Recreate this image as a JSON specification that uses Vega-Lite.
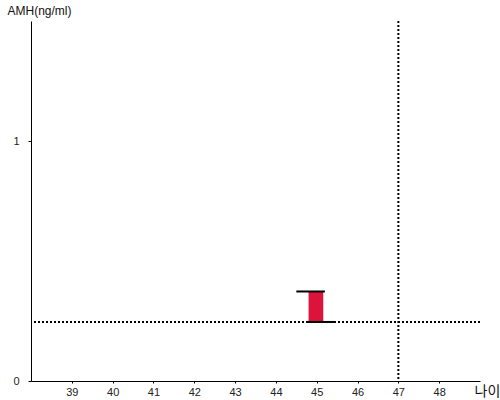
{
  "$schema": "https://vega.github.io/schema/vega-lite/v6.json",
  "width": 449,
  "height": 360,
  "autosize": "none",
  "padding": {"left": 31, "top": 21, "right": 20, "bottom": 19},
  "background": "white",
  "config": {
    "view": {"stroke": null},
    "axis": {"grid": false, "domainColor": "black", "tickColor": "black", "labelColor": "#222", "labelFont": "Liberation Sans", "labelFontSize": 11, "titleFontWeight": "normal"}
  },
  "datasets": {
    "bars": [{"x1": 44.8, "x2": 45.16, "y1": 0.246, "y2": 0.372}],
    "segs": [{"x1": 44.5, "x2": 45.2, "y": 0.373}, {"x1": 44.75, "x2": 45.45, "y": 0.246}],
    "hline": [{"y": 0.246}],
    "vline": [{"x": 47}]
  },
  "layer": [
    {
      "data": {"name": "hline"},
      "mark": {"type": "rule", "color": "black", "strokeWidth": 2, "strokeDash": [2, 2]},
      "encoding": {
        "y": {"field": "y", "type": "quantitative", "scale": {"domain": [0, 1.5], "nice": false}, "axis": {"values": [0, 1], "format": "d", "tickSize": 3, "labelPadding": 9, "title": "AMH(ng/ml)", "titleAngle": 0, "titleX": -24, "titleY": -11, "titleAlign": "left", "titleBaseline": "middle", "titleFont": "Liberation Sans", "titleFontSize": 12, "titleColor": "#111"}}
      }
    },
    {
      "data": {"name": "vline"},
      "mark": {"type": "rule", "color": "black", "strokeWidth": 2, "strokeDash": [2, 2]},
      "encoding": {
        "x": {"field": "x", "type": "quantitative", "scale": {"domain": [38, 49], "nice": false}, "axis": {"values": [39, 40, 41, 42, 43, 44, 45, 46, 47, 48], "format": "d", "tickSize": 2, "labelPadding": 3, "title": "나이", "titleX": 443, "titleY": 10, "titleAlign": "left", "titleBaseline": "middle", "titleFont": "Noto Sans CJK KR", "titleFontSize": 14, "titleColor": "#111"}}
      }
    },
    {
      "data": {"name": "bars"},
      "mark": {"type": "rect", "color": "#DC143C"},
      "encoding": {
        "x": {"field": "x1", "type": "quantitative"},
        "x2": {"field": "x2"},
        "y": {"field": "y1", "type": "quantitative"},
        "y2": {"field": "y2"}
      }
    },
    {
      "data": {"name": "segs"},
      "mark": {"type": "rule", "color": "black", "strokeWidth": 2},
      "encoding": {
        "x": {"field": "x1", "type": "quantitative"},
        "x2": {"field": "x2"},
        "y": {"field": "y", "type": "quantitative"}
      }
    }
  ]
}
